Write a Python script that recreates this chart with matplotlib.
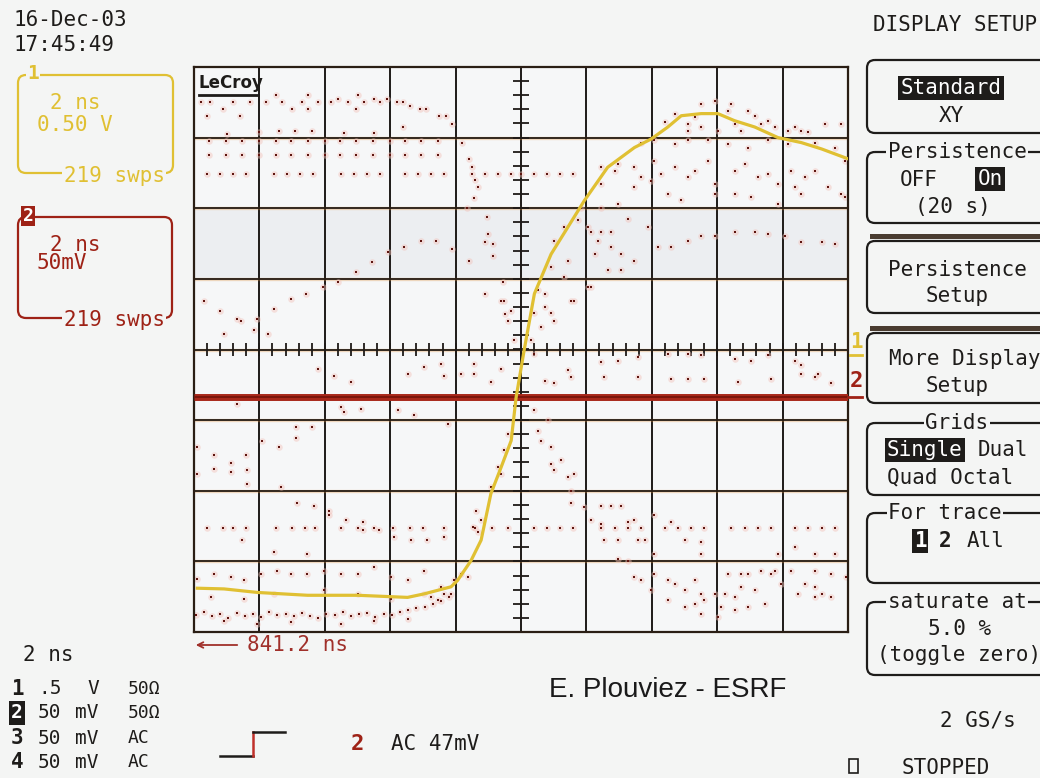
import numpy as np
import matplotlib.pyplot as plt
from matplotlib.patches import FancyBboxPatch, Rectangle

# ---- channel 1 (yellow): time in ns, level in V (0.5 V/div)
c1_t = [-9.9, -9.08, -8.06, -6.53, -5.0, -3.47, -2.96, -2.14, -1.94, -1.53, -1.22,
        -0.92, -0.61, -0.3, -0.15, 0.1, 0.41, 0.92, 1.43, 1.94, 2.65, 3.47, 3.98,
        4.49, 4.9, 5.51, 6.02, 6.53, 7.15, 7.86, 8.57, 9.19, 10.0]
c1_v = [-1.69, -1.695, -1.72, -1.74, -1.74, -1.755, -1.73, -1.68, -1.635, -1.495, -1.35,
        -1.02, -0.835, -0.645, -0.34, 0.0, 0.395, 0.675, 0.865, 1.055, 1.29, 1.43, 1.49,
        1.575, 1.655, 1.67, 1.67, 1.62, 1.575, 1.5, 1.465, 1.42, 1.35]
c1_vdiv = 0.5

# ---- channel 2 (red): flat AC trace, mV (50 mV/div)
c2_t = [-10.0, 10.0]
c2_mv = [-33.5, -33.5]
c2_vdiv = 50.0

# ---- persistence dots (time ns, divisions)
p_top = [(-9.8, 3.5), (-9.5, 3.5), (-9.6, 3.3), (-9.1, 3.4), (-8.8, 3.5), (-8.6, 3.3),
         (-8.3, 3.5), (-7.8, 3.5), (-7.5, 3.6), (-7.3, 3.5), (-7.0, 3.4), (-6.7, 3.5),
         (-6.5, 3.6), (-6.5, 3.4), (-6.2, 3.5), (-5.8, 3.5), (-5.6, 3.55), (-5.3, 3.5),
         (-5.05, 3.4), (-5.0, 3.6), (-4.8, 3.5), (-4.5, 3.55), (-4.3, 3.5), (-4.1, 3.55),
         (-3.8, 3.5), (-3.6, 3.5), (-3.4, 3.45), (-3.1, 3.4), (-2.9, 3.4), (-2.5, 3.3),
         (-2.3, 3.3), (-2.1, 3.2), (-7.4, 3.1), (-6.9, 3.1), (-6.4, 3.1), (-5.4, 3.07),
         (-4.5, 3.07), (-3.6, 3.15), (-8.0, 3.08), (-9.0, 3.05)]

band_t = [-9.55, -9.03, -8.52, -8.0, -7.49, -7.03, -6.52, -6.0, -5.55, -5.04, -4.53,
          -4.02, -3.56, -3.05, -2.54]
band_hi = 2.95
band_lo = 2.75

row_hi_t = [-9.6, -9.2, -8.8, -8.4, -7.55, -7.15, -6.75, -6.35, -5.5, -5.1, -4.7, -4.3,
            -3.55, -3.15, -2.75, -2.35, -1.5, -1.1, -0.7, -0.3, 0.0, 0.4, 0.8, 1.2, 1.6]
row_hi_d = 2.49
row_lo_t = [-9.6, -9.1, -8.8, -8.4, -7.5, -7.0, -6.6, -6.3, -5.5, -5.0, -4.5, -3.9,
            -3.4, -3.0, -2.35, -1.4, -0.9, -0.4, 0.4, 0.8, 1.2, 1.6, 2.45, 2.86, 3.27,
            3.67, 4.39, 4.8, 5.2, 5.6, 6.43, 6.84, 7.24, 7.65, 8.37, 8.78, 9.19, 9.6]
row_lo_d = -2.53

p_fall = [(-1.8, 2.93), (-1.6, 2.7), (-1.5, 2.58), (-1.4, 2.4), (-1.3, 2.3), (-1.45, 2.15),
          (-1.65, 2.0), (-1.05, 1.87), (-1.0, 1.64), (-0.85, 1.5), (-1.1, 1.52),
          (-1.6, 1.26), (-0.85, 1.33), (-1.1, 0.79), (-0.6, 0.69), (-0.5, 0.5),
          (-0.3, 0.55), (-0.55, 0.95), (-0.51, 0.69), (-0.41, 0.41), (-0.2, 0.13)]

p_left = [(-4.08, 1.38), (-3.57, 1.45), (-3.06, 1.54), (-2.6, 1.54), (-2.1, 1.42),
          (-4.55, 1.24), (-5.05, 1.1), (-9.7, 0.69), (-9.2, 0.55), (-8.67, 0.43),
          (-8.57, 0.41), (-8.16, 0.27), (-8.06, 0.43), (-9.08, 0.22), (-7.55, 0.57),
          (-7.04, 0.71), (-6.58, 0.79), (-6.07, 0.88), (-5.6, 0.95), (-7.75, 0.22)]

p_right_top = [(4.39, 3.22), (4.7, 3.34), (5.1, 3.19), (5.51, 3.48), (5.92, 3.52),
               (6.43, 3.48), (6.94, 3.38), (7.15, 3.31), (7.55, 3.24), (8.17, 3.1),
               (8.57, 3.1), (9.29, 3.19), (9.8, 3.19), (5.1, 3.1), (5.51, 3.15),
               (6.02, 3.1), (6.53, 3.19), (6.74, 3.1), (7.35, 3.19), (7.76, 3.15),
               (8.37, 3.15), (8.78, 3.08), (5.31, 3.29), (6.33, 3.38),
               (4.08, 2.96), (4.7, 2.91), (5.1, 2.96), (5.72, 2.96), (6.33, 2.91),
               (6.94, 2.86), (7.55, 2.96), (8.17, 2.91), (8.98, 2.93), (9.59, 2.86),
               (3.67, 2.93)]

p_right_mid = [(2.45, 2.58), (2.96, 2.63), (3.47, 2.58), (3.67, 2.44), (4.08, 2.67),
               (4.29, 2.49), (4.7, 2.58), (5.1, 2.44), (5.31, 2.53), (5.72, 2.67),
               (5.92, 2.34), (6.53, 2.53), (6.84, 2.63), (7.25, 2.44), (7.55, 2.49),
               (7.86, 2.34), (8.27, 2.53), (8.37, 2.3), (8.68, 2.44), (8.98, 2.53),
               (9.39, 2.3), (9.8, 2.2), (9.9, 2.67), (6.53, 2.2), (7.04, 2.16),
               (3.47, 2.3), (3.98, 2.39), (4.49, 2.2), (4.9, 2.11), (2.45, 2.01),
               (2.96, 2.06), (7.86, 2.06), (8.57, 2.2), (9.9, 2.16), (5.92, 2.2),
               (2.14, 1.66), (2.45, 1.66), (2.76, 1.66), (4.18, 1.45), (4.59, 1.45),
               (5.1, 1.54), (5.51, 1.61), (5.92, 1.61), (6.53, 1.66), (7.15, 1.66),
               (7.55, 1.64), (8.06, 1.61), (8.57, 1.52), (9.19, 1.52), (9.59, 1.5),
               (3.88, 1.73), (3.27, 1.85)]

p_rise = [(1.74, 1.83), (2.04, 1.73), (2.35, 1.54), (2.76, 1.45), (3.06, 1.35),
          (3.47, 1.26), (2.65, 1.12), (3.06, 1.12), (1.43, 1.26), (1.33, 1.02),
          (0.92, 1.17), (0.72, 0.79), (0.41, 0.51), (0.92, 0.51), (1.53, 0.69),
          (1.02, 1.54), (1.33, 1.73), (1.84, 2.01), (2.45, 2.34), (2.86, 2.53),
          (2.25, 1.35), (2.04, 0.88), (0.61, 0.32), (0.31, 0.13), (0.51, 0.84),
          (0.72, 0.6), (1.02, 0.41), (1.63, 0.69), (2.14, 0.88)]

p_right_low = [(2.45, -0.18), (2.96, -0.16), (3.57, -0.11), (4.49, -0.06), (5.1, -0.06),
               (5.51, -0.08), (6.53, -0.13), (7.04, -0.16), (7.55, -0.08), (8.57, -0.22),
               (9.08, -0.34), (9.49, -0.48), (1.43, -0.29), (0.41, -0.06), (0.72, -0.44),
               (1.02, -0.48), (1.53, -0.39), (2.55, -0.39), (3.57, -0.39), (4.59, -0.42),
               (5.1, -0.42), (5.61, -0.42), (6.63, -0.46), (7.65, -0.42), (8.57, -0.34),
               (8.37, -0.16), (8.98, -0.39), (0.41, -0.86), (0.51, -1.15), (0.61, -1.29),
               (0.92, -1.38), (0.82, -1.0)]

p_fall_right = [(0.92, -1.62), (1.02, -1.71), (1.23, -1.57), (1.43, -1.81), (1.53, -2.0),
                (1.63, -1.76), (1.53, -2.18), (1.94, -2.23), (2.14, -2.42), (2.45, -2.47),
                (2.45, -2.21), (2.76, -2.21), (3.06, -2.21), (2.55, -2.7), (2.96, -2.7),
                (3.27, -2.44), (3.57, -2.7), (3.47, -2.42), (3.78, -2.7), (2.96, -2.96),
                (3.27, -2.99), (4.08, -2.35), (4.59, -2.44), (5.0, -2.7), (5.51, -2.73),
                (5.51, -2.89), (4.08, -2.89)]

p_floor_right = [(3.47, -3.22), (3.67, -3.27), (4.08, -3.18), (4.49, -3.27), (4.7, -3.32),
                 (5.0, -3.41), (5.31, -3.27), (5.51, -3.74), (5.61, -3.55), (5.92, -3.46),
                 (6.02, -3.79), (6.23, -3.46), (6.53, -3.51), (6.53, -3.69), (6.74, -3.36),
                 (6.94, -3.65), (7.15, -3.41), (7.45, -3.6), (7.65, -3.18), (7.96, -3.32),
                 (8.27, -3.13), (8.47, -3.46), (8.68, -3.32), (8.98, -3.36), (9.19, -3.46),
                 (9.49, -3.51), (9.95, -3.22), (3.98, -3.41), (4.49, -3.55), (5.0, -3.65),
                 (5.31, -3.6), (6.33, -3.18), (6.94, -3.18), (7.35, -3.13), (7.76, -3.13),
                 (8.98, -3.13), (9.49, -3.18), (9.59, -2.89), (8.98, -2.89), (8.37, -2.8),
                 (7.86, -2.89), (6.74, -3.18), (5.51, -3.46), (6.12, -3.65), (8.98, -3.51)]

p_mid_left = [(-6.22, -0.27), (-5.71, -0.37), (-5.2, -0.46), (-3.47, -0.34), (-2.96, -0.25),
              (-2.45, -0.2), (-2.34, -0.37), (-1.83, -0.34), (-1.43, -0.2), (-1.43, -0.34),
              (-0.92, -0.46), (-0.61, -0.27), (-8.67, -0.77), (-5.51, -0.82), (-5.41, -0.89),
              (-4.9, -0.84), (-3.77, -0.86), (-3.26, -0.93), (-2.24, -1.05),
              (-9.9, -1.38), (-9.39, -1.5), (-9.39, -1.69), (-8.88, -1.6), (-8.88, -1.74),
              (-8.42, -1.5), (-8.37, -1.71), (-9.9, -1.76), (-7.91, -1.29), (-7.4, -1.38),
              (-6.89, -1.1), (-6.89, -1.26), (-6.38, -1.1), (-7.34, -1.95), (-8.37, -1.9),
              (-0.51, -1.43), (-0.61, -1.76), (-0.41, -1.2), (-0.71, -1.67), (-0.92, -1.95),
              (-6.84, -2.18), (-6.33, -2.21), (-5.87, -2.28), (-5.87, -2.35), (-5.36, -2.42),
              (-4.84, -2.44), (-4.84, -2.56), (-4.33, -2.56), (-3.88, -2.66), (-3.37, -2.7),
              (-2.86, -2.7), (-2.34, -2.66), (-1.48, -2.52), (-1.33, -2.59), (-8.52, -2.7),
              (-7.55, -2.87), (-6.53, -2.89), (-1.38, -2.28), (-1.23, -2.42)]

p_base_left = [(-9.9, -3.25), (-9.39, -3.18), (-8.88, -3.22), (-8.47, -3.27), (-7.96, -3.18),
               (-7.45, -3.13), (-7.04, -3.18), (-6.53, -3.18), (-6.02, -3.13), (-5.51, -3.18),
               (-5.0, -3.18), (-4.49, -3.08), (-3.98, -3.22), (-3.47, -3.27), (-2.96, -3.13),
               (-2.45, -3.36), (-2.04, -3.27), (-1.83, -3.18), (-1.63, -3.22), (-9.49, -3.51),
               (-8.47, -3.53), (-7.55, -3.46), (-6.02, -3.41), (-5.0, -3.46), (-3.98, -3.53),
               (-2.96, -3.46), (-2.34, -3.46), (-2.14, -3.46), (-2.75, -3.51), (-2.55, -3.55),
               (-9.08, -3.84), (-8.06, -3.88), (-7.04, -3.86), (-5.51, -3.88), (-4.49, -3.84),
               (-3.47, -3.81)]

floor_t = [-9.95, -9.7, -9.45, -9.2, -8.95, -8.7, -8.45, -8.2, -7.95, -7.7, -7.45, -7.2,
           -6.95, -6.7, -6.45, -6.2, -5.95, -5.7, -5.45, -5.2, -4.95, -4.7, -4.45, -4.2,
           -3.95, -3.7, -3.45, -3.2, -2.95, -2.7, -2.45, -2.2]
floor_d = [-3.76, -3.72, -3.78, -3.74, -3.8, -3.73, -3.77, -3.75, -3.79, -3.72, -3.76, -3.74,
           -3.78, -3.73, -3.77, -3.8, -3.74, -3.76, -3.72, -3.78, -3.75, -3.73, -3.79, -3.74,
           -3.76, -3.72, -3.69, -3.66, -3.64, -3.6, -3.56, -3.5]

bg = '#f4f5f4'
ink = '#1e1c1a'
yel = '#e0c033'
red = '#9e2216'
mono = 'DejaVu Sans Mono'

fig = plt.figure(figsize=(10.4, 7.78), dpi=100, facecolor=bg)

# ---- scope graticule
ax = fig.add_axes([194 / 1040, 1 - 632 / 778, 654 / 1040, 565 / 778], zorder=1)
ax.set_facecolor('#f6f7f8')
ax.set_xlim(-10, 10)
ax.set_ylim(-4, 4)
ax.set_xticks([])
ax.set_yticks([])
for s in ax.spines.values():
    s.set_color('#2a1e14')
    s.set_linewidth(1.6)
ax.axhspan(1, 2, color='#eceef1', zorder=0)
for x in range(-8, 10, 2):
    ax.axvline(x, color='#1e1a18', lw=1.4, zorder=1)
for y in range(-3, 4):
    ax.axhline(y, color='#e0903a', lw=2.4, alpha=0.3, zorder=1)
    ax.axhline(y, color='#241a12', lw=1.3, zorder=1)
# centre tick marks
minor_x = np.arange(-10, 10.01, 0.4)
ax.vlines(minor_x, -0.09, 0.09, color='#1e1a18', lw=1.3, zorder=1)
minor_y = np.arange(-4, 4.01, 0.2)
ax.hlines(minor_y, -0.25, 0.25, color='#1e1a18', lw=1.3, zorder=1)

# persistence dots
groups = [p_top, p_fall, p_left, p_right_top, p_right_mid, p_rise, p_right_low,
          p_fall_right, p_floor_right, p_mid_left, p_base_left]
pts = [p for g in groups for p in g]
pts += [(t, band_hi) for t in band_t] + [(t, band_lo) for t in band_t]
pts += [(t, row_hi_d) for t in row_hi_t] + [(t, row_lo_d) for t in row_lo_t]
pts += list(zip(floor_t, floor_d))
px = [p[0] for p in pts]
py = [p[1] for p in pts]
ax.scatter(px, py, s=22, color='#f2c0b8', alpha=0.45, linewidths=0, zorder=2)
ax.scatter(px, py, s=3.2, marker='s', color='#5e1510', linewidths=0, zorder=3)

# traces
ax.plot(c2_t, np.array(c2_mv) / c2_vdiv, color='#a8281a', lw=5.0, zorder=4,
        solid_capstyle='butt')
ax.plot(c2_t, np.array(c2_mv) / c2_vdiv, color='#7a160c', lw=1.4, zorder=4)
ax.plot(c1_t, np.array(c1_v) / c1_vdiv, color=yel, lw=2.3, zorder=5)

ax.text(-9.85, 3.78, 'LeCroy', fontsize=12, fontweight='bold', color=ink,
        family='DejaVu Sans', va='center', ha='left', zorder=6)
ax.plot([-9.85, -8.05], [3.6, 3.6], color=ink, lw=2, zorder=6)

# ---- overlay in pixel coordinates
ov = fig.add_axes([0, 0, 1, 1], zorder=2)
ov.patch.set_alpha(0)
ov.set_xlim(0, 1040)
ov.set_ylim(778, 0)
ov.axis('off')


def txt(x, y, s, size=15, color=ink, ha='left', inv=False, box=False, **kw):
    d = dict(fontsize=size, color=color, ha=ha, va='center', family=mono)
    d.update(kw)
    if inv:
        d['color'] = 'white'
        d['bbox'] = dict(facecolor=ink, edgecolor='none', pad=1.5)
    elif box:
        d['bbox'] = dict(facecolor=bg, edgecolor='none', pad=1)
    ov.text(x, y, s, **d)


def rbox(x, y, w, h, color=ink, lw=1.6):
    ov.add_patch(FancyBboxPatch((x, y), w, h, boxstyle='round,pad=0,rounding_size=8',
                                fill=False, edgecolor=color, lw=lw))


txt(13, 20, '16-Dec-03')
txt(13, 45, '17:45:49')

# channel 1 box
rbox(18, 75, 155, 98, color=yel)
txt(27, 73, '1', color=yel, fontweight='bold', box=True, size=14)
txt(50, 103, '2 ns', color=yel)
txt(37, 125, '0.50 V', color=yel)
txt(114, 176, '219 swps', color=yel, ha='center', box=True)

# channel 2 box
rbox(18, 217, 154, 101, color=red)
ov.text(28, 216, '2', fontsize=13, color='white', fontweight='bold', family=mono,
        ha='center', va='center', bbox=dict(facecolor=red, edgecolor='none', pad=1))
txt(50, 245, '2 ns', color=red)
txt(37, 263, '50mV', color=red)
txt(114, 320, '219 swps', color=red, ha='center', box=True)

# bottom left setup
txt(23, 655, '2 ns')
rows_y = [689, 713, 738, 762]
col_ch = ['1', '2', '3', '4']
col_val = ['.5', '50', '50', '50']
col_unit = ['V', 'mV', 'mV', 'mV']
col_cpl = ['50Ω', '50Ω', 'AC', 'AC']
for i, y in enumerate(rows_y):
    if i == 1:
        txt(17, y, col_ch[i], size=14, fontweight='bold', ha='center', inv=True)
    else:
        txt(17, y, col_ch[i], size=15, fontweight='bold', ha='center')
    txt(38, y, col_val[i], size=14)
    txt(99, y, col_unit[i], size=14, ha='right')
    txt(128, y, col_cpl[i], size=13)

ov.annotate('', xy=(193, 645), xytext=(240, 645),
            arrowprops=dict(arrowstyle='->', color='#a0302a', lw=1.3))
txt(247, 645, '841.2 ns', color='#a0302a')

# trigger symbol
ov.plot([220, 253], [756, 756], color=ink, lw=1.8)
ov.plot([253, 253], [756, 732], color='#c0302a', lw=1.8)
ov.plot([253, 285], [732, 732], color=ink, lw=1.8)
txt(357, 744, '2', color=red, fontweight='bold', ha='center', size=16)
txt(391, 744, 'AC 47mV')

ov.text(668, 690, 'E. Plouviez - ESRF', fontsize=20, family='Liberation Sans',
        color='#1a1a1a', ha='center', va='center')

# trace markers at right edge of grid
txt(856, 342, '1', color=yel, fontweight='bold', ha='center', size=15)
ov.plot([850, 862], [355, 355], color=yel, lw=2)
txt(856, 381, '2', color=red, fontweight='bold', ha='center', size=16)
ov.plot([848, 862], [397, 397], color=red, lw=2)

# ---- right menu
txt(873, 25, 'DISPLAY SETUP')
mx = 957
box_tops = [60, 152, 241, 333, 423, 513, 602]
box_bots = [133, 223, 313, 403, 495, 583, 675]
for t, b in zip(box_tops, box_bots):
    rbox(867, t, 200, b - t)
for y0 in [234, 326]:
    ov.add_patch(Rectangle((870, y0), 175, 5, color='#4a3c30', lw=0))

txt(mx - 6, 88, 'Standard', ha='center', inv=True)
txt(mx - 6, 116, 'XY', ha='center')

txt(mx, 152, 'Persistence', ha='center', box=True)
txt(900, 180, 'OFF')
txt(990, 179, 'On', ha='center', inv=True)
txt(953, 207, '(20 s)', ha='center')

txt(mx, 270, 'Persistence', ha='center')
txt(mx, 296, 'Setup', ha='center')

txt(965, 359, 'More Display', ha='center')
txt(mx, 386, 'Setup', ha='center')

txt(mx, 423, 'Grids', ha='center', box=True)
txt(887, 450, 'Single', inv=True)
txt(978, 450, 'Dual')
txt(887, 477, 'Quad Octal')

txt(945, 513, 'For trace', ha='center', box=True)
txt(920, 541, '1', ha='center', inv=True, fontweight='bold')
txt(945, 541, '2', ha='center', fontweight='bold')
txt(967, 541, 'All')

txt(mx, 602, 'saturate at', ha='center', box=True)
txt(960, 629, '5.0 %', ha='center')
txt(mx + 2, 655, '(toggle zero)', ha='center')

txt(978, 720, '2 GS/s', ha='center')
ov.add_patch(Rectangle((849, 759), 9, 14, fill=False, edgecolor=ink, lw=1.2))
txt(902, 768, 'STOPPED')

fig.savefig('out.png', dpi=100, facecolor=bg)
